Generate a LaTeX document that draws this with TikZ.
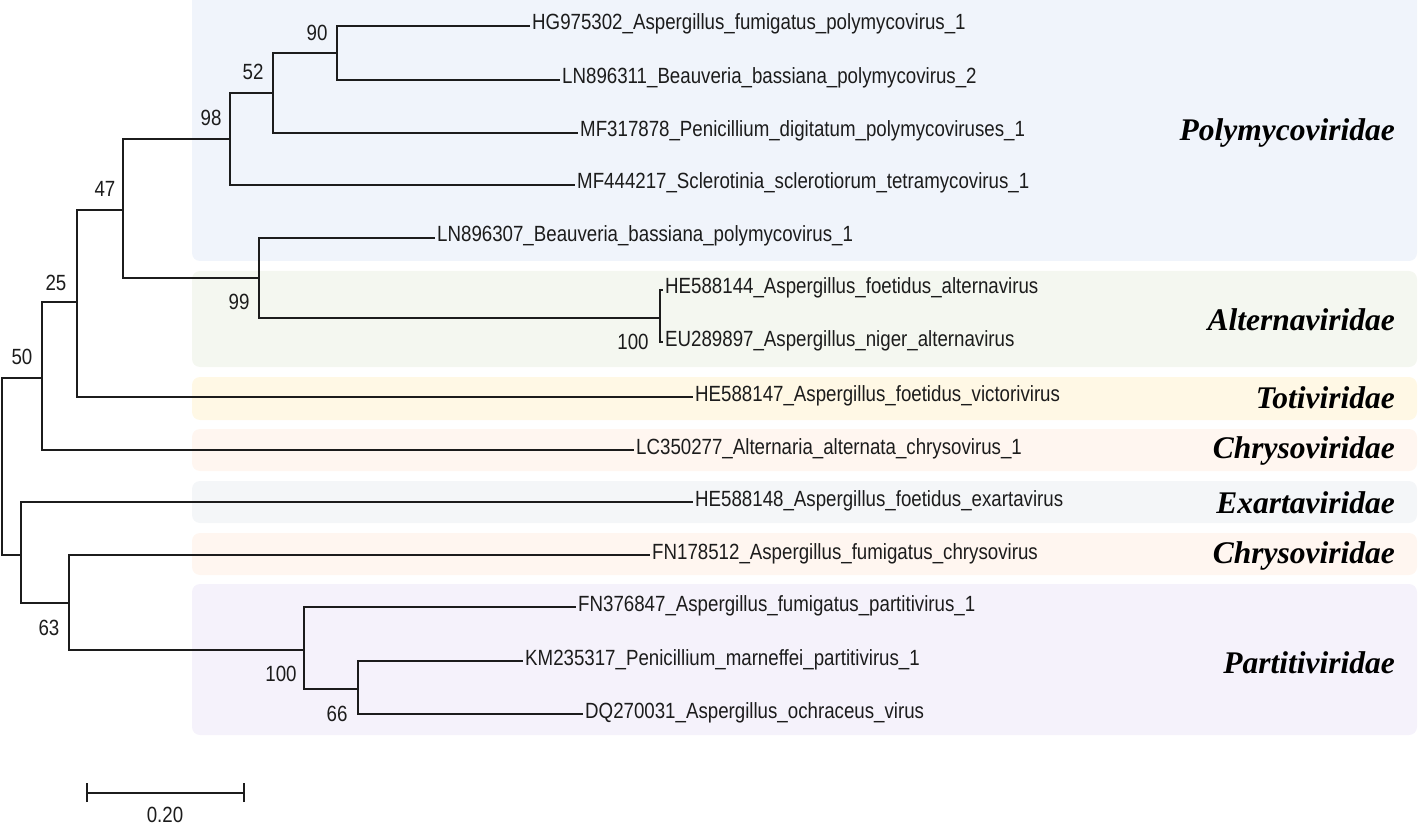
\documentclass[tikz,border=0pt]{standalone}
\usepackage{fontspec}
\setmainfont{Liberation Serif}
\newfontfamily\treefont[FakeStretch=0.85]{Liberation Sans}
\usepackage{tikz}
\usetikzlibrary{positioning}
\tikzset{>=latex}
\definecolor{polyblue}{RGB}{240,244,251}
\definecolor{altgreen}{RGB}{244,247,240}
\definecolor{totiyellow}{RGB}{255,248,229}
\definecolor{chrysopeach}{RGB}{255,246,240}
\definecolor{exartagrey}{RGB}{244,246,248}
\definecolor{partililac}{RGB}{245,242,251}
\definecolor{branchink}{RGB}{28,28,28}
\tikzset{
  branch/.style={draw=branchink, line width=1.9pt},
  leaf/.style={anchor=west, inner xsep=2pt, inner ysep=0pt, text height=8pt, text depth=-7pt,
    text=branchink, font=\treefont\fontsize{22}{22}\selectfont},
  boot/.style={inner sep=0pt, text=branchink, font=\treefont\fontsize{22}{22}\selectfont},
  family/.style={anchor=east, inner sep=0pt, font=\bfseries\itshape\fontsize{31.5}{31.5}\selectfont},
  band/.style={rounded corners=8pt}
}

\begin{document}
\begin{tikzpicture}[x=1pt, y=-1pt]
      \useasboundingbox (0,0) rectangle (1418,826);
      \fill[polyblue, band] (192,-10) rectangle (1417,261);
      \fill[altgreen, band] (192,271) rectangle (1417,367);
      \fill[totiyellow, band] (192,377) rectangle (1417,420);
      \fill[chrysopeach, band] (192,429) rectangle (1417,471);
      \fill[exartagrey, band] (192,481) rectangle (1417,523);
      \fill[chrysopeach, band] (192,533) rectangle (1417,575);
      \fill[partililac, band] (192,584) rectangle (1417,735);

      \coordinate (root) at (2,466);
      \coordinate (n50) at (42,378);
      \coordinate (n25) at (77,302);
      \coordinate (n47) at (123,210);
      \coordinate (n98) at (230,139);
      \coordinate (n52) at (273,93);
      \coordinate (n90) at (337,53);
      \coordinate (n99) at (259,278);
      \coordinate (n100alt) at (660,318);
      \coordinate (nlow) at (21,555);
      \coordinate (n63) at (69,603);
      \coordinate (n100par) at (304,650);
      \coordinate (n66) at (358,689);

      \node[leaf] (HG975302) at (530,26) {HG975302\_Aspergillus\_fumigatus\_polymycovirus\_1};
      \node[leaf] (LN896311) at (560,80) {LN896311\_Beauveria\_bassiana\_polymycovirus\_2};
      \node[leaf] (MF317878) at (578,133) {MF317878\_Penicillium\_digitatum\_polymycoviruses\_1};
      \node[leaf] (MF444217) at (575,185) {MF444217\_Sclerotinia\_sclerotiorum\_tetramycovirus\_1};
      \node[leaf] (LN896307) at (435,238) {LN896307\_Beauveria\_bassiana\_polymycovirus\_1};
      \node[leaf] (HE588144) at (663,290) {HE588144\_Aspergillus\_foetidus\_alternavirus};
      \node[leaf] (EU289897) at (663,342) {EU289897\_Aspergillus\_niger\_alternavirus};
      \node[leaf] (HE588147) at (693,397) {HE588147\_Aspergillus\_foetidus\_victorivirus};
      \node[leaf] (LC350277) at (634,450) {LC350277\_Alternaria\_alternata\_chrysovirus\_1};
      \node[leaf] (HE588148) at (693,502) {HE588148\_Aspergillus\_foetidus\_exartavirus};
      \node[leaf] (FN178512) at (650,555) {FN178512\_Aspergillus\_fumigatus\_chrysovirus};
      \node[leaf] (FN376847) at (576,607) {FN376847\_Aspergillus\_fumigatus\_partitivirus\_1};
      \node[leaf] (KM235317) at (523,661) {KM235317\_Penicillium\_marneffei\_partitivirus\_1};
      \node[leaf] (DQ270031) at (583,714) {DQ270031\_Aspergillus\_ochraceus\_virus};

      \draw[branch] (root) |- (n50);
      \draw[branch] (root) |- (nlow);
      \draw[branch] (n50) |- (n25);
      \draw[branch] (n50) |- (LC350277.west);
      \draw[branch] (n25) |- (n47);
      \draw[branch] (n25) |- (HE588147.west);
      \draw[branch] (n47) |- (n98);
      \draw[branch] (n47) |- (n99);
      \draw[branch] (n98) |- (n52);
      \draw[branch] (n98) |- (MF444217.west);
      \draw[branch] (n52) |- (n90);
      \draw[branch] (n52) |- (MF317878.west);
      \draw[branch] (n90) |- (HG975302.west);
      \draw[branch] (n90) |- (LN896311.west);
      \draw[branch] (n99) |- (LN896307.west);
      \draw[branch] (n99) |- (n100alt);
      \draw[branch] (n100alt) |- (HE588144.west);
      \draw[branch] (n100alt) |- (EU289897.west);
      \draw[branch] (nlow) |- (HE588148.west);
      \draw[branch] (nlow) |- (n63);
      \draw[branch] (n63) |- (FN178512.west);
      \draw[branch] (n63) |- (n100par);
      \draw[branch] (n100par) |- (FN376847.west);
      \draw[branch] (n100par) |- (n66);
      \draw[branch] (n66) |- (KM235317.west);
      \draw[branch] (n66) |- (DQ270031.west);

      \node[boot] (b90) at (317,33) {90};
      \node[boot] (b52) at (253,72) {52};
      \node[boot] (b98) at (211,118) {98};
      \node[boot] (b47) at (105,189) {47};
      \node[boot] (b25) at (56,283) {25};
      \node[boot] (b50) at (22,357) {50};
      \node[boot] (b99) at (239,302) {99};
      \node[boot] (b100alt) at (633,342) {100};
      \node[boot] (b63) at (49,628) {63};
      \node[boot] (b100par) at (281,674) {100};
      \node[boot] (b66) at (337,714) {66};

      \node[family] (poly) at (1395,133) {Polymycoviridae};
      \node[family] (alter) at (1395,320) {Alternaviridae};
      \node[family] (toti) at (1395,398) {Totiviridae};
      \node[family] (chryso) at (1395,451) {Chrysoviridae};
      \node[family] (exarta) at (1395,503) {Exartaviridae};
      \node[family] (chrysob) at (1395,556) {Chrysoviridae};
      \node[family] (parti) at (1395,663) {Partitiviridae};

      \coordinate (barl) at (87,793);
      \coordinate (barr) at (244,793);
      \draw[branch] (barl) -- (barr);
      \draw[branch] ([yshift=-9pt]barl) -- ([yshift=10pt]barl);
      \draw[branch] ([yshift=-9pt]barr) -- ([yshift=10pt]barr);
      \node[boot] (scale) at (165,815) {0.20};
    \end{tikzpicture}
\end{document}
